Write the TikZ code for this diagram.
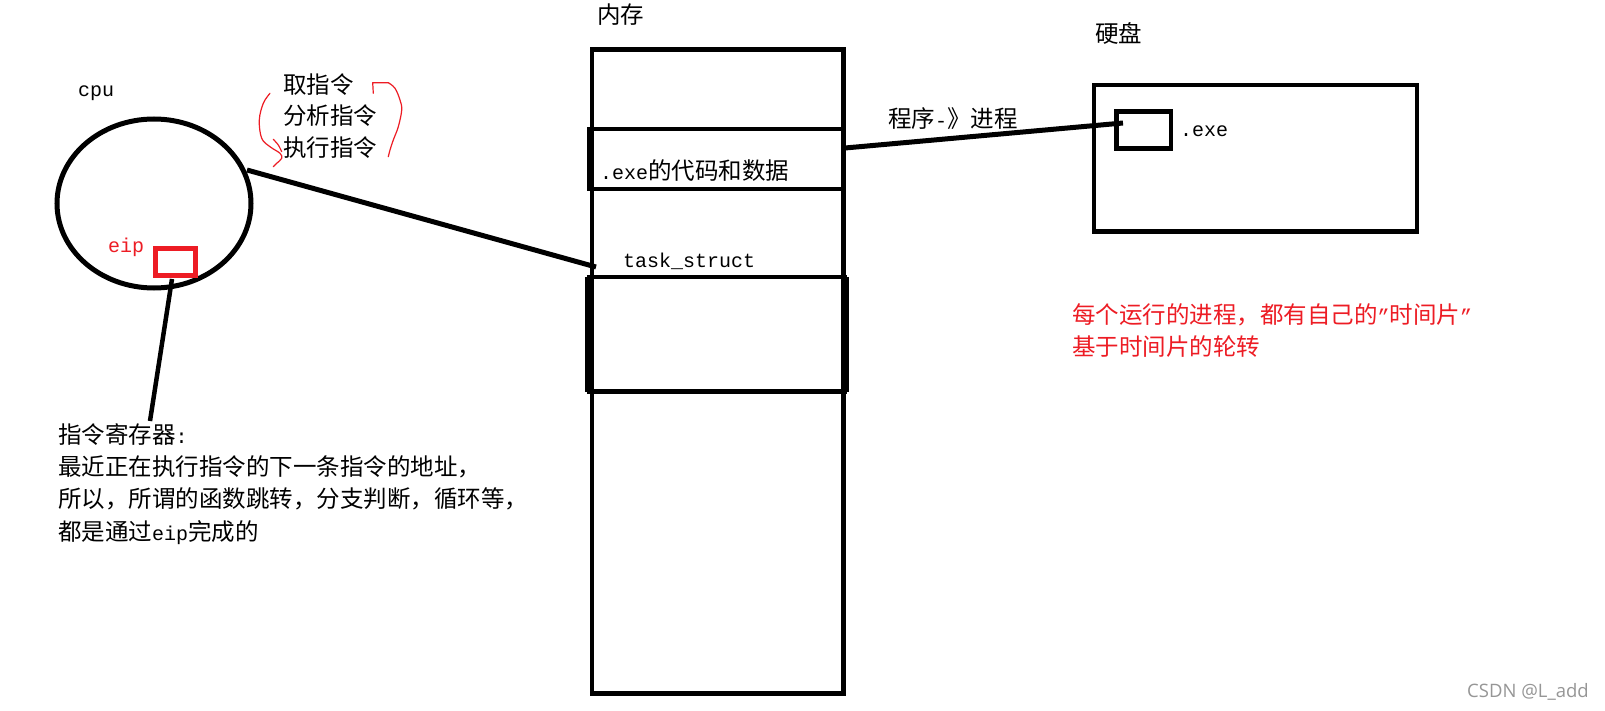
\documentclass[tikz,border=0pt]{standalone}
\usepackage{fontspec}
\setmainfont{Noto Sans CJK SC}
\newfontfamily\mono{Liberation Mono}[Scale=0.85]
\newfontfamily\wmfont{Open Sans}
\newcommand\lat[1]{{\mono #1}}
\definecolor{pen}{RGB}{237,28,36}
\definecolor{wmgray}{RGB}{150,150,150}
\begin{document}
\begin{tikzpicture}[x=1pt,y=-1pt,
  txt/.style={inner sep=0pt, anchor=base west, align=left, font=\fontsize{23.5}{32.2}\selectfont},
  box/.style={draw=black, line width=4.5pt},
  wire/.style={draw=black, line width=5pt},
  redpen/.style={draw=pen, line width=1.2pt, line cap=round, line join=round}]
\useasboundingbox (0,0) rectangle (1605,711);
\fill[white] (0,0) rectangle (1605,711);

% CPU
\draw[line width=5pt] (154,203.5) ellipse [x radius=97pt, y radius=84.5pt];
\node[txt] (cpulbl) at (78,97) {\lat{cpu}};
\node[txt, text=pen] (eiplbl) at (108,253) {\lat{eip}};
\draw[draw=pen, line width=5pt] (155.5,248.5) rectangle (195.5,275.5);
\coordinate (eipA) at (172,279);
\coordinate (eipB) at (150,421);
\draw[draw=black, line width=4.5pt] (eipA) -- (eipB);

% instruction cycle text and red marks (base anchor = last line)
\node[txt, font=\fontsize{23.5}{31.5}\selectfont] (cycle) at (283,156.5) {取指令\\分析指令\\执行指令};
\draw[redpen] plot[smooth, tension=0.6] coordinates {(270,93.3) (263.3,103.3) (259.3,120) (261.7,138.3) (270,146.7) (280,153.3) (281.7,158.3) (276.7,163.3) (273.3,166.7)};
\draw[redpen] plot[smooth] coordinates {(273.3,139.3) (278.3,145) (281.7,151.7)};
\draw[redpen] (373.3,93.3) -- (372.7,82.7) -- (388.3,82.7);
\draw[redpen] plot[smooth, tension=0.6] coordinates {(388.3,82.7) (395,88.3) (400,100) (401.7,110) (398.3,126.7) (393.3,140) (390,150) (388.3,156.7)};

% register description
\node[txt] (regtxt) at (58,540.1) {指令寄存器\lat{:}\\最近正在执行指令的下一条指令的地址，\\所以，所谓的函数跳转，分支判断，循环等，\\都是通过\lat{eip}完成的};

% memory
\node[txt] (memlbl) at (597,24) {内存};
\draw[box] (592,49.5) rectangle (843.5,693.5);
\draw[box] (589.5,129) rectangle (843.5,189);
\node[txt] (exedata) at (600,180) {\lat{.exe}的代码和数据};
\node[txt] (tasklbl) at (623,267) {\lat{task\_struct}};
\draw[box] (589.5,277) rectangle (845,391.5);
\draw[draw=black, line width=8.5pt] (589.5,277) -- (589.5,391.5);
\draw[draw=black, line width=8.5pt] (845,277) -- (845,391.5);

\coordinate (cpuA) at (247,170);
\coordinate (memA) at (596,267);
\draw[wire] (cpuA) -- (memA);

% disk
\node[txt] (disklbl) at (1095,43) {硬盘};
\draw[box] (1094,85) rectangle (1417,231.5);
\draw[box] (1116.5,111.5) rectangle (1171,148.5);
\node[txt] (exelbl) at (1180,137) {\lat{.exe}};
\node[txt] (proglbl) at (888,128) {程序\lat{-}》进程};
\coordinate (memB) at (845,148);
\coordinate (exeA) at (1123,123);
\draw[wire] (memB) -- (exeA);

% red note
\node[txt, text=pen, font=\fontsize{23.5}{32}\selectfont] (note) at (1072,355) {每个运行的进程，都有自己的\lat{”}时间片\lat{”}\\基于时间片的轮转};

% watermark
\node[inner sep=0pt, anchor=base west, text=wmgray, font=\wmfont\fontsize{18.5}{20}\selectfont] (wm) at (1467,697) {CSDN @L\_add};
\end{tikzpicture}
\end{document}
